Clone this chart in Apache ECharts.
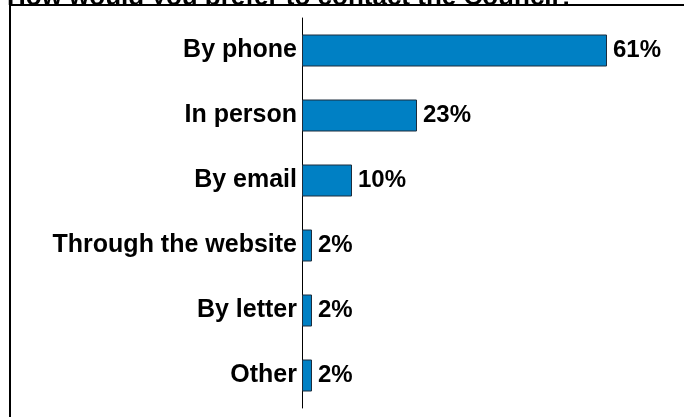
<!DOCTYPE html>
<html>
<head>
<meta charset="utf-8">
<script src="https://cdn.jsdelivr.net/npm/echarts@6/dist/echarts.min.js"></script>
<style>
html,body{margin:0;padding:0;background:#fff;}
#c{width:684px;height:417px;}
</style>
</head>
<body>
<div id="c"></div>
<script>
const titleText = "How would you prefer to contact the Council?";
const categories = ["By phone", "In person", "By email", "Through the website", "By letter", "Other"];
const values = [61, 23, 10, 2, 2, 2];

const chart = echarts.init(document.getElementById('c'), null, {renderer: 'canvas'});
const FONT = '"Liberation Sans", Arial, sans-serif';
chart.setOption({
  animation: false,
  backgroundColor: '#ffffff',
  graphic: [
    {type: 'text', x: 7, y: 11, z: 0, zlevel: 0,
     style: {text: titleText, font: 'bold 26px ' + FONT, fill: '#000', verticalAlign: 'bottom', align: 'left'}},
    {type: 'rect', shape: {x: 10, y: 5, width: 720, height: 440}, z: 1, zlevel: 0,
     style: {fill: '#fff', stroke: '#000', lineWidth: 2}}
  ],
  grid: {left: 302, top: 18, height: 390, width: 350, containLabel: false},
  xAxis: {type: 'value', min: 0, max: 70, show: false},
  yAxis: {
    type: 'category', data: categories, inverse: true, z: 5,
    axisLine: {show: true, lineStyle: {color: '#000', width: 1}},
    axisTick: {show: false},
    axisLabel: {color: '#000', fontWeight: 'bold', fontSize: 25, fontFamily: FONT, margin: 5}
  },
  series: [{
    type: 'bar', data: values, barWidth: 32, z: 6,
    itemStyle: {color: '#0080C4', borderColor: '#1c2c3c', borderWidth: 1},
    label: {show: true, position: 'right', distance: 6, formatter: '{c}%', color: '#000', fontWeight: 'bold', fontSize: 24, fontFamily: FONT}
  }]
});
</script>
</body>
</html>
